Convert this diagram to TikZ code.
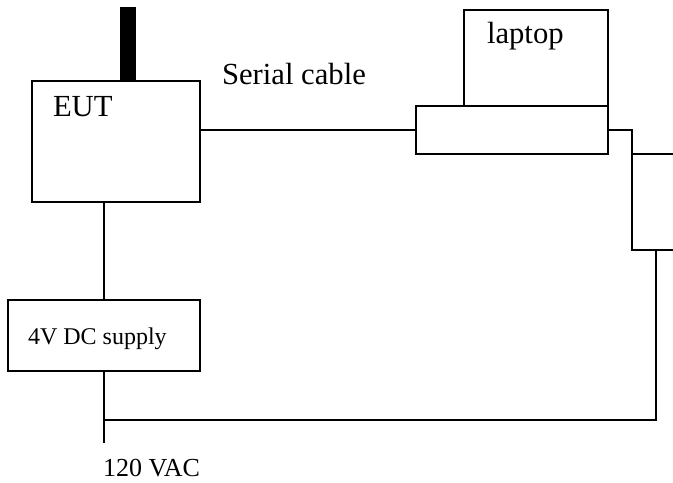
\documentclass[tikz,border=0pt]{standalone}
\usepackage{fontspec}
\setmainfont{Liberation Serif}
\usetikzlibrary{fit}

\tikzset{every picture/.style={line width=1.5pt}}
\tikzset{unitbox/.style={draw, inner sep=0pt, outer sep=0pt},
  bigtext/.style={inner sep=0pt, anchor=base west, font=\fontsize{23}{27}\selectfont},
  smalltext/.style={inner sep=0pt, anchor=base west, font=\fontsize{18}{22}\selectfont}}

\begin{document}
\begin{tikzpicture}[x=0.75pt,y=0.75pt,yscale=-1.0,xscale=1.0]
    \useasboundingbox (0,0) rectangle (673,482);
    \clip (0,0) rectangle (673,482);

    % Antenna
    \node [fill=black, inner sep=0pt, outer sep=0pt, fit={(120,7) (136,80)}] (antenna) {};
    % EUT
    \node [unitbox, fit={(32,81) (200,202)}] (eut) {};
    \node [bigtext] (euttext) at (52,116) {EUT};
    % Laptop
    \node [unitbox, fit={(464,10) (608,106)}] (screen) {};
    \node [bigtext] (laptoptext) at (486,43) {laptop};
    \node [unitbox, fit={(416,106) (608,154)}] (base) {};
    % Unit on the right, cut by the edge
    \node [unitbox, fit={(632,154) (680,250)}] (rbox) {};
    % Supply
    \node [unitbox, fit={(8,300) (200,371)}] (supply) {};
    \node [smalltext] (supplytext) at (27,344) {4V DC supply};
    % Labels
    \node [bigtext] (serial) at (221,84) {Serial cable};
    \node [smalltext, font=\fontsize{19.5}{23}\selectfont] (vac) at (102,476) {120 VAC};
    \coordinate (acjoin) at (104,420);
    \coordinate (acend) at (104,443);

    % Connection
    \draw (eut.east |- base.west) -- (base.west);
    % Connection
    \draw (base.east) -| (rbox.south west);
    % Connection
    \draw (eut.south -| supply.north) -- (supply.north);
    % Connection
    \draw (supply.south) -- (acend);
    % Connection
    \draw (rbox.south) |- (acjoin);
\end{tikzpicture}
\end{document}
